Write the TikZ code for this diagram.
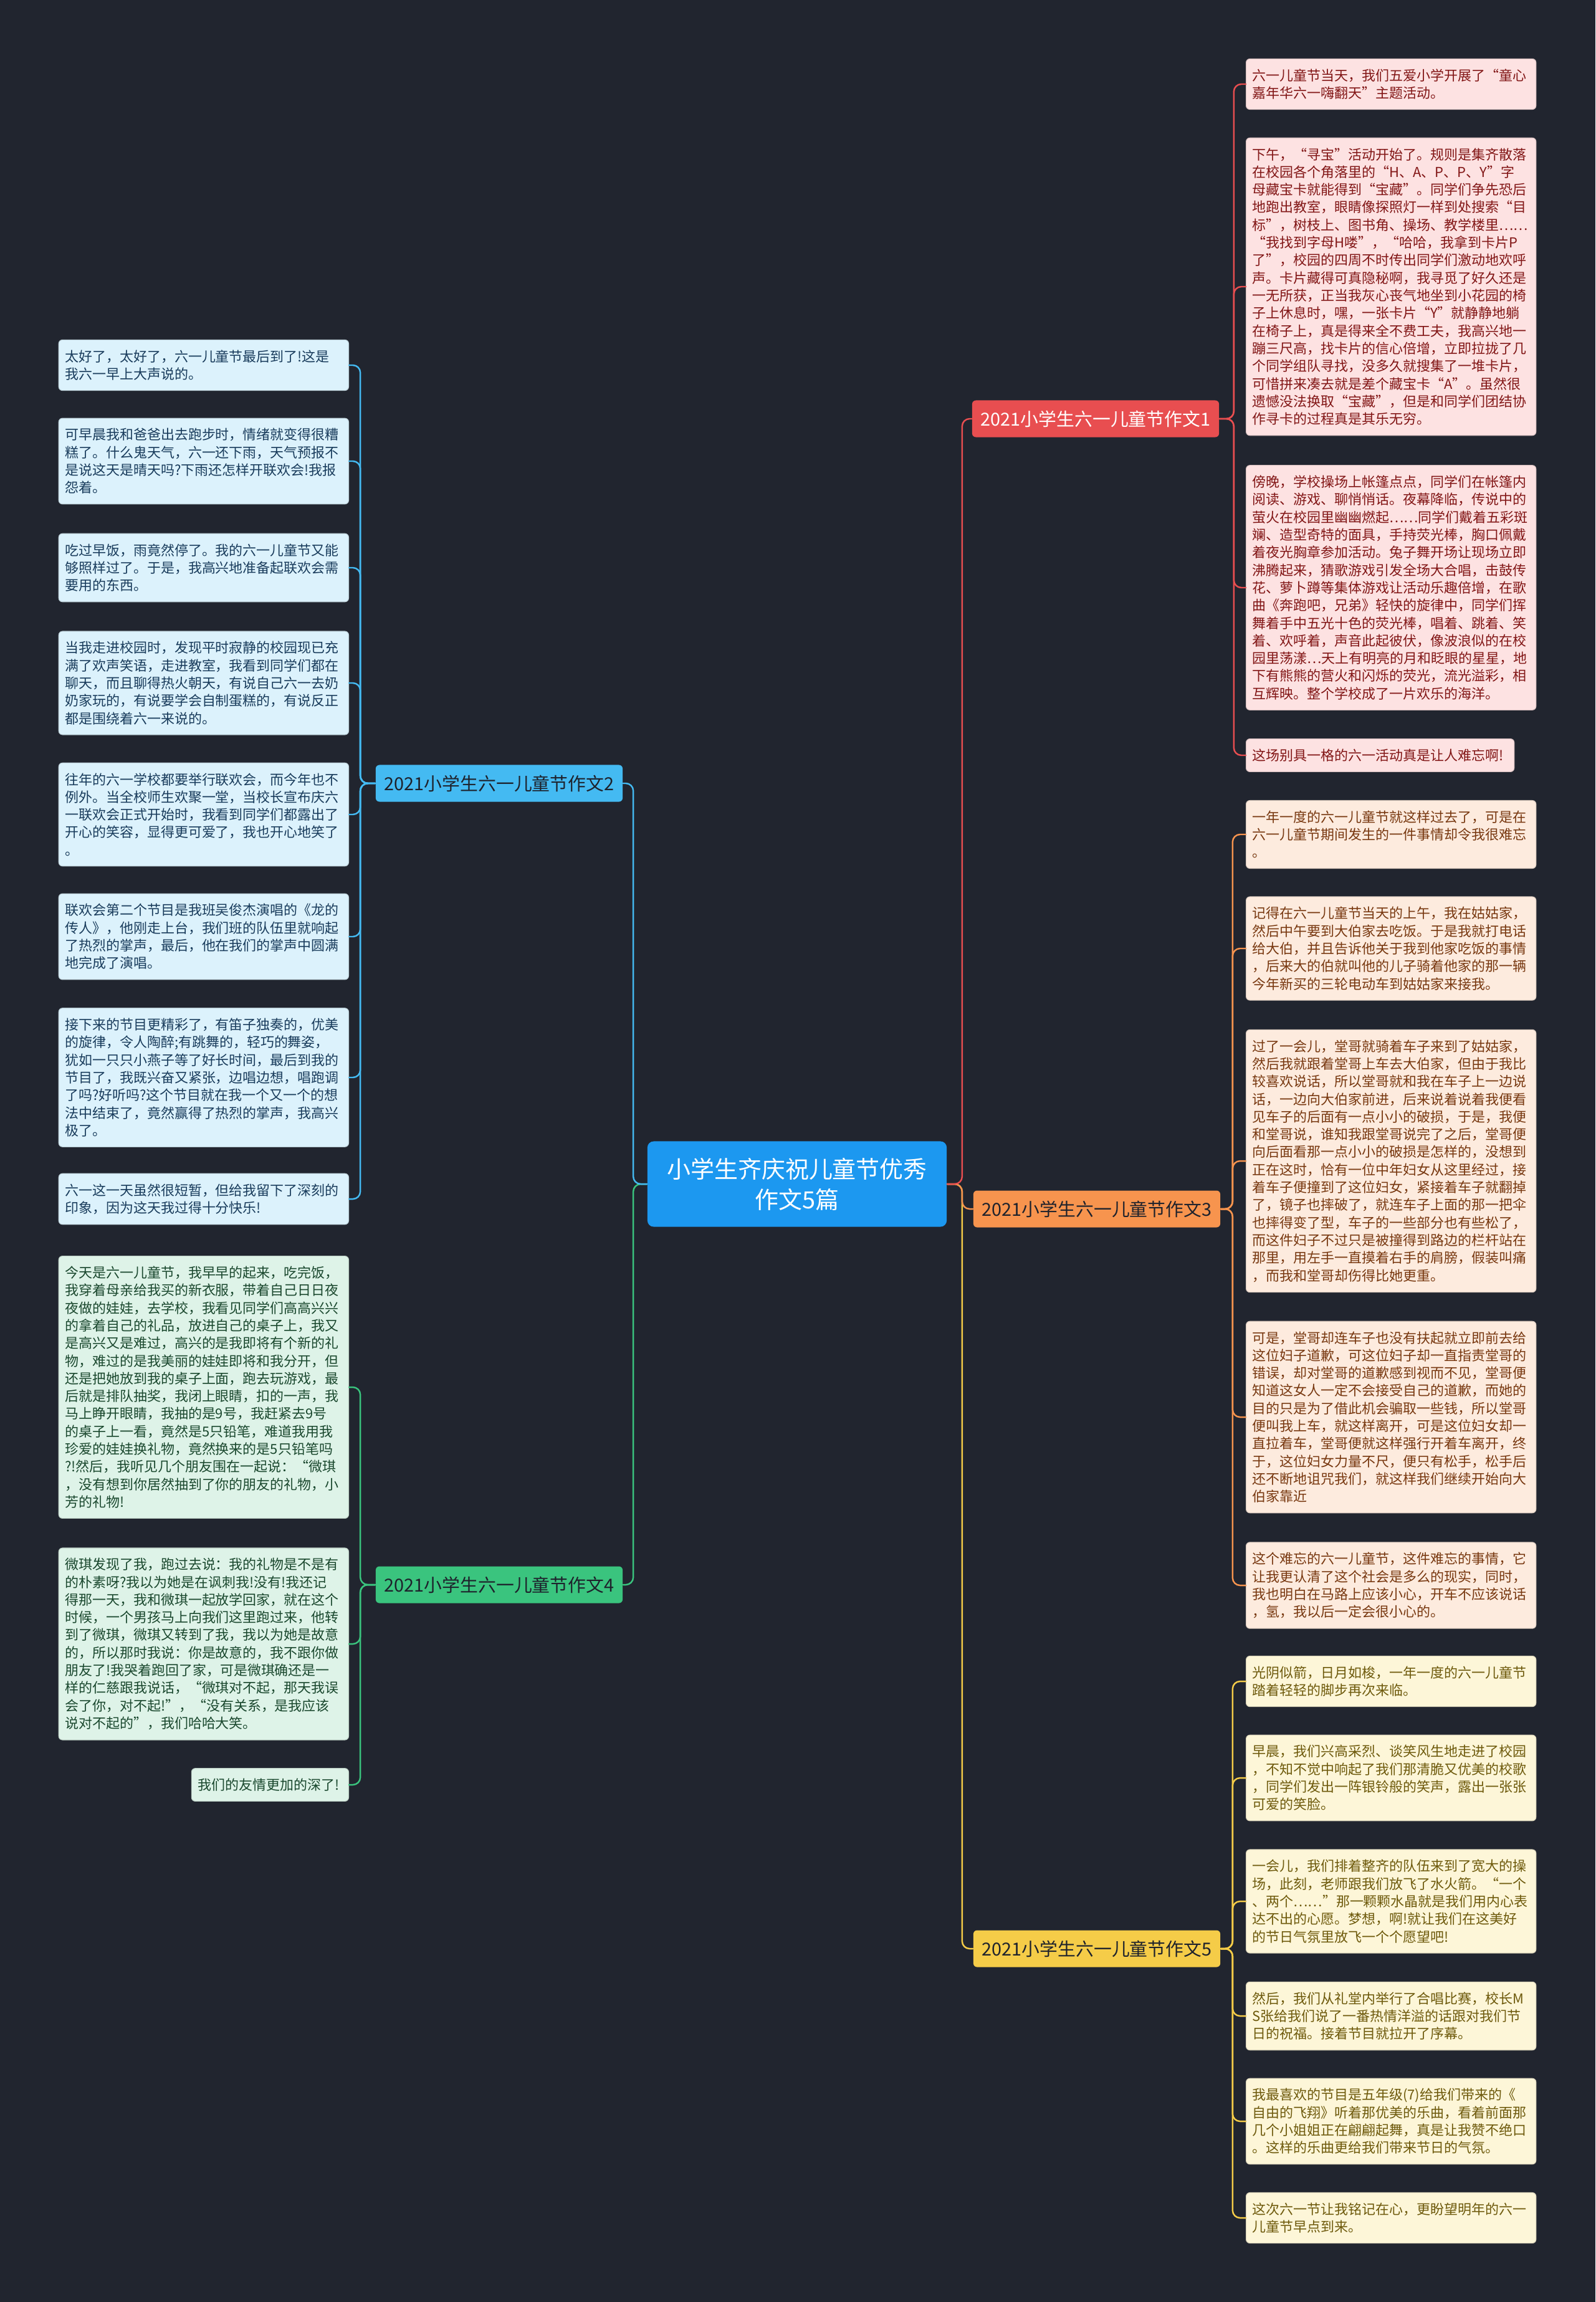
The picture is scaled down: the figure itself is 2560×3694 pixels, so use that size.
\documentclass[tikz,border=0pt]{standalone}
\usepackage{fontspec}
\setmainfont{Noto Sans CJK SC}
\definecolor{bgc}{RGB}{33,37,47}
\definecolor{rootc}{RGB}{28,152,240}
\definecolor{cr}{RGB}{232,78,80}
\definecolor{cb}{RGB}{68,186,242}
\definecolor{co}{RGB}{247,148,78}
\definecolor{cg}{RGB}{58,196,126}
\definecolor{cy}{RGB}{245,204,72}
\definecolor{fillr}{RGB}{253,226,226}
\definecolor{fillb}{RGB}{220,242,252}
\definecolor{fillo}{RGB}{253,235,222}
\definecolor{fillg}{RGB}{222,243,232}
\definecolor{filly}{RGB}{253,246,216}
\definecolor{textr}{RGB}{130,22,22}
\definecolor{textb}{RGB}{25,60,92}
\definecolor{texto}{RGB}{120,56,16}
\definecolor{textg}{RGB}{26,72,46}
\definecolor{texty}{RGB}{110,90,12}
\definecolor{dark}{RGB}{30,34,44}

\begin{document}
\begin{tikzpicture}[x=0.01cm,y=-0.01cm,line cap=round,
  leaf/.style={rounded corners=0.06cm,inner xsep=0.1cm,inner ysep=4.6pt,text width=4.45cm,align=left,font=\fontsize{6.25pt}{8.05pt}\selectfont},
  leafr/.style={leaf,fill=fillr,draw=fillr!85!black,line width=0.3pt,text=textr},
  leafb/.style={leaf,fill=fillb,draw=fillb!85!black,line width=0.3pt,text=textb},
  leafo/.style={leaf,fill=fillo,draw=fillo!85!black,line width=0.3pt,text=texto},
  leafg/.style={leaf,fill=fillg,draw=fillg!85!black,line width=0.3pt,text=textg},
  leafy/.style={leaf,fill=filly,draw=filly!85!black,line width=0.3pt,text=texty},
  branch/.style={rounded corners=0.06cm,minimum width=3.96cm,minimum height=0.59cm,inner sep=0pt,font=\fontsize{8.2pt}{9pt}\selectfont},
  link/.style={line width=0.7pt,rounded corners=0.12cm}]
\fill[bgc] (0,0) rectangle (2560,3694);

\node[fill=rootc,text=white,rounded corners=0.1cm,minimum width=4.8cm,minimum height=1.37cm,align=center,font=\fontsize{10.8pt}{13.9pt}\selectfont] (root) at (1279,1900) {小学生齐庆祝儿童节优秀\\作文5篇};

\node[branch,fill=cr,text=white] (b1) at (1758,672) {2021小学生六一儿童节作文1};
\node[branch,fill=cb,text=dark] (b2) at (801,1257) {2021小学生六一儿童节作文2};
\node[branch,fill=co,text=dark] (b3) at (1760,1940) {2021小学生六一儿童节作文3};
\node[branch,fill=cg,text=dark] (b4) at (801,2543) {2021小学生六一儿童节作文4};
\node[branch,fill=cy,text=dark] (b5) at (1760,3127) {2021小学生六一儿童节作文5};

\node[leafr,anchor=west] (r11) at (1999,135) {六一儿童节当天，我们五爱小学开展了“童心\\嘉年华六一嗨翻天”主题活动。};
\node[leafr,anchor=west] (r12) at (1999,460) {下午，“寻宝”活动开始了。规则是集齐散落\\在校园各个角落里的“H、A、P、P、Y”字\\母藏宝卡就能得到“宝藏”。同学们争先恐后\\地跑出教室，眼睛像探照灯一样到处搜索“目\\标”，树枝上、图书角、操场、教学楼里……\\“我找到字母H喽”，“哈哈，我拿到卡片P\\了”，校园的四周不时传出同学们激动地欢呼\\声。卡片藏得可真隐秘啊，我寻觅了好久还是\\一无所获，正当我灰心丧气地坐到小花园的椅\\子上休息时，嘿，一张卡片“Y”就静静地躺\\在椅子上，真是得来全不费工夫，我高兴地一\\蹦三尺高，找卡片的信心倍增，立即拉拢了几\\个同学组队寻找，没多久就搜集了一堆卡片，\\可惜拼来凑去就是差个藏宝卡“A”。虽然很\\遗憾没法换取“宝藏”，但是和同学们团结协\\作寻卡的过程真是其乐无穷。};
\node[leafr,anchor=west] (r13) at (1999,943) {傍晚，学校操场上帐篷点点，同学们在帐篷内\\阅读、游戏、聊悄悄话。夜幕降临，传说中的\\萤火在校园里幽幽燃起……同学们戴着五彩斑\\斓、造型奇特的面具，手持荧光棒，胸口佩戴\\着夜光胸章参加活动。兔子舞开场让现场立即\\沸腾起来，猜歌游戏引发全场大合唱，击鼓传\\花、萝卜蹲等集体游戏让活动乐趣倍增，在歌\\曲《奔跑吧，兄弟》轻快的旋律中，同学们挥\\舞着手中五光十色的荧光棒，唱着、跳着、笑\\着、欢呼着，声音此起彼伏，像波浪似的在校\\园里荡漾…天上有明亮的月和眨眼的星星，地\\下有熊熊的营火和闪烁的荧光，流光溢彩，相\\互辉映。整个学校成了一片欢乐的海洋。};
\node[leafr,anchor=west,text width=4.1cm] (r14) at (1999,1212) {这场别具一格的六一活动真是让人难忘啊!};

\node[leafb,anchor=east] (l21) at (560,586) {太好了，太好了，六一儿童节最后到了!这是\\我六一早上大声说的。};
\node[leafb,anchor=east] (l22) at (560,740) {可早晨我和爸爸出去跑步时，情绪就变得很糟\\糕了。什么鬼天气，六一还下雨，天气预报不\\是说这天是晴天吗?下雨还怎样开联欢会!我报\\怨着。};
\node[leafb,anchor=east] (l23) at (560,911) {吃过早饭，雨竟然停了。我的六一儿童节又能\\够照样过了。于是，我高兴地准备起联欢会需\\要用的东西。};
\node[leafb,anchor=east] (l24) at (560,1096) {当我走进校园时，发现平时寂静的校园现已充\\满了欢声笑语，走进教室，我看到同学们都在\\聊天，而且聊得热火朝天，有说自己六一去奶\\奶家玩的，有说要学会自制蛋糕的，有说反正\\都是围绕着六一来说的。};
\node[leafb,anchor=east] (l25) at (560,1307) {往年的六一学校都要举行联欢会，而今年也不\\例外。当全校师生欢聚一堂，当校长宣布庆六\\一联欢会正式开始时，我看到同学们都露出了\\开心的笑容，显得更可爱了，我也开心地笑了\\。};
\node[leafb,anchor=east] (l26) at (560,1503) {联欢会第二个节目是我班吴俊杰演唱的《龙的\\传人》，他刚走上台，我们班的队伍里就响起\\了热烈的掌声，最后，他在我们的掌声中圆满\\地完成了演唱。};
\node[leafb,anchor=east] (l27) at (560,1729) {接下来的节目更精彩了，有笛子独奏的，优美\\的旋律，令人陶醉;有跳舞的，轻巧的舞姿，\\犹如一只只小燕子等了好长时间，最后到我的\\节目了，我既兴奋又紧张，边唱边想，唱跑调\\了吗?好听吗?这个节目就在我一个又一个的想\\法中结束了，竟然赢得了热烈的掌声，我高兴\\极了。};
\node[leafb,anchor=east] (l28) at (560,1924) {六一这一天虽然很短暂，但给我留下了深刻的\\印象，因为这天我过得十分快乐!};

\node[leafo,anchor=west] (r31) at (1999,1339) {一年一度的六一儿童节就这样过去了，可是在\\六一儿童节期间发生的一件事情却令我很难忘\\。};
\node[leafo,anchor=west] (r32) at (1999,1522) {记得在六一儿童节当天的上午，我在姑姑家，\\然后中午要到大伯家去吃饭。于是我就打电话\\给大伯，并且告诉他关于我到他家吃饭的事情\\，后来大的伯就叫他的儿子骑着他家的那一辆\\今年新买的三轮电动车到姑姑家来接我。};
\node[leafo,anchor=west] (r33) at (1999,1863) {过了一会儿，堂哥就骑着车子来到了姑姑家，\\然后我就跟着堂哥上车去大伯家，但由于我比\\较喜欢说话，所以堂哥就和我在车子上一边说\\话，一边向大伯家前进，后来说着说着我便看\\见车子的后面有一点小小的破损，于是，我便\\和堂哥说，谁知我跟堂哥说完了之后，堂哥便\\向后面看那一点小小的破损是怎样的，没想到\\正在这时，恰有一位中年妇女从这里经过，接\\着车子便撞到了这位妇女，紧接着车子就翻掉\\了，镜子也摔破了，就连车子上面的那一把伞\\也摔得变了型，车子的一些部分也有些松了，\\而这件妇子不过只是被撞得到路边的栏杆站在\\那里，用左手一直摸着右手的肩膀，假装叫痛\\，而我和堂哥却伤得比她更重。};
\node[leafo,anchor=west] (r34) at (1999,2274) {可是，堂哥却连车子也没有扶起就立即前去给\\这位妇子道歉，可这位妇子却一直指责堂哥的\\错误，却对堂哥的道歉感到视而不见，堂哥便\\知道这女人一定不会接受自己的道歉，而她的\\目的只是为了借此机会骗取一些钱，所以堂哥\\便叫我上车，就这样离开，可是这位妇女却一\\直拉着车，堂哥便就这样强行开着车离开，终\\于，这位妇女力量不尺，便只有松手，松手后\\还不断地诅咒我们，就这样我们继续开始向大\\伯家靠近};
\node[leafo,anchor=west] (r35) at (1999,2544) {这个难忘的六一儿童节，这件难忘的事情，它\\让我更认清了这个社会是多么的现实，同时，\\我也明白在马路上应该小心，开车不应该说话\\，氢，我以后一定会很小心的。};

\node[leafg,anchor=east] (l41) at (560,2226) {今天是六一儿童节，我早早的起来，吃完饭，\\我穿着母亲给我买的新衣服，带着自己日日夜\\夜做的娃娃，去学校，我看见同学们高高兴兴\\的拿着自己的礼品，放进自己的桌子上，我又\\是高兴又是难过，高兴的是我即将有个新的礼\\物，难过的是我美丽的娃娃即将和我分开，但\\还是把她放到我的桌子上面，跑去玩游戏，最\\后就是排队抽奖，我闭上眼睛，扣的一声，我\\马上睁开眼睛，我抽的是9号，我赶紧去9号\\的桌子上一看，竟然是5只铅笔，难道我用我\\珍爱的娃娃换礼物，竟然换来的是5只铅笔吗\\?!然后，我听见几个朋友围在一起说：“微琪\\，没有想到你居然抽到了你的朋友的礼物，小\\芳的礼物!};
\node[leafg,anchor=east] (l42) at (560,2638) {微琪发现了我，跑过去说：我的礼物是不是有\\的朴素呀?我以为她是在讽刺我!没有!我还记\\得那一天，我和微琪一起放学回家，就在这个\\时候，一个男孩马上向我们这里跑过来，他转\\到了微琪，微琪又转到了我，我以为她是故意\\的，所以那时我说：你是故意的，我不跟你做\\朋友了!我哭着跑回了家，可是微琪确还是一\\样的仁慈跟我说话，“微琪对不起，那天我误\\会了你，对不起!”，“没有关系，是我应该\\说对不起的”，我们哈哈大笑。};
\node[leafg,anchor=east,text width=2.32cm] (l43) at (560,2864) {我们的友情更加的深了!};

\node[leafy,anchor=west] (r51) at (1999,2698) {光阴似箭，日月如梭，一年一度的六一儿童节\\踏着轻轻的脚步再次来临。};
\node[leafy,anchor=west] (r52) at (1999,2853) {早晨，我们兴高采烈、谈笑风生地走进了校园\\，不知不觉中响起了我们那清脆又优美的校歌\\，同学们发出一阵银铃般的笑声，露出一张张\\可爱的笑脸。};
\node[leafy,anchor=west] (r53) at (1999,3051) {一会儿，我们排着整齐的队伍来到了宽大的操\\场，此刻，老师跟我们放飞了水火箭。“一个\\、两个……”那一颗颗水晶就是我们用内心表\\达不出的心愿。梦想，啊!就让我们在这美好\\的节日气氛里放飞一个个愿望吧!};
\node[leafy,anchor=west] (r54) at (1999,3235) {然后，我们从礼堂内举行了合唱比赛，校长M\\S张给我们说了一番热情洋溢的话跟对我们节\\日的祝福。接着节目就拉开了序幕。};
\node[leafy,anchor=west] (r55) at (1999,3404) {我最喜欢的节目是五年级(7)给我们带来的《\\自由的飞翔》听着那优美的乐曲，看着前面那\\几个小姐姐正在翩翩起舞，真是让我赞不绝口\\。这样的乐曲更给我们带来节日的气氛。};
\node[leafy,anchor=west] (r56) at (1999,3559) {这次六一节让我铭记在心，更盼望明年的六一\\儿童节早点到来。};

\draw[link,cy] (root.east) -- ++(24,0) |- (b5.west);
\draw[link,co] (root.east) -- ++(24,0) |- (b3.west);
\draw[link,cr] (root.east) -- ++(24,0) |- (b1.west);
\draw[link,cg] (root.west) -- ++(-22,0) |- (b4.east);
\draw[link,cb] (root.west) -- ++(-22,0) |- (b2.east);

\draw[link,cr] (b1.east) -- ++(23,0) |- (r11.west);
\draw[link,cr] (b1.east) -- ++(23,0) |- (r12.west);
\draw[link,cr] (b1.east) -- ++(23,0) |- (r13.west);
\draw[link,cr] (b1.east) -- ++(23,0) |- (r14.west);

\draw[link,cb] (b2.west) -- ++(-24,0) |- (l21.east);
\draw[link,cb] (b2.west) -- ++(-24,0) |- (l22.east);
\draw[link,cb] (b2.west) -- ++(-24,0) |- (l23.east);
\draw[link,cb] (b2.west) -- ++(-24,0) |- (l24.east);
\draw[link,cb] (b2.west) -- ++(-24,0) |- (l25.east);
\draw[link,cb] (b2.west) -- ++(-24,0) |- (l26.east);
\draw[link,cb] (b2.west) -- ++(-24,0) |- (l27.east);
\draw[link,cb] (b2.west) -- ++(-24,0) |- (l28.east);

\draw[link,co] (b3.east) -- ++(19,0) |- (r31.west);
\draw[link,co] (b3.east) -- ++(19,0) |- (r32.west);
\draw[link,co] (b3.east) -- ++(19,0) |- (r33.west);
\draw[link,co] (b3.east) -- ++(19,0) |- (r34.west);
\draw[link,co] (b3.east) -- ++(19,0) |- (r35.west);

\draw[link,cg] (b4.west) -- ++(-24,0) |- (l41.east);
\draw[link,cg] (b4.west) -- ++(-24,0) |- (l42.east);
\draw[link,cg] (b4.west) -- ++(-24,0) |- (l43.east);

\draw[link,cy] (b5.east) -- ++(19,0) |- (r51.west);
\draw[link,cy] (b5.east) -- ++(19,0) |- (r52.west);
\draw[link,cy] (b5.east) -- ++(19,0) |- (r53.west);
\draw[link,cy] (b5.east) -- ++(19,0) |- (r54.west);
\draw[link,cy] (b5.east) -- ++(19,0) |- (r55.west);
\draw[link,cy] (b5.east) -- ++(19,0) |- (r56.west);
\end{tikzpicture}
\end{document}
